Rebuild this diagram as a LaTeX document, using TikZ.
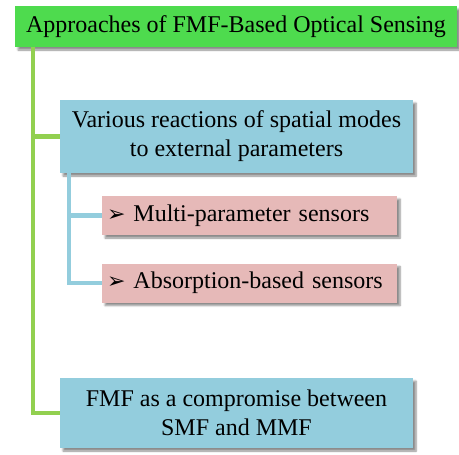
\documentclass[tikz,border=0pt]{standalone}
\usepackage{fontspec}
\setmainfont{Liberation Serif}
\newfontfamily\symfont{DejaVu Sans}
\usetikzlibrary{shadows.blur}
\definecolor{titlegreen}{RGB}{78,219,78}
\definecolor{trunkgreen}{RGB}{146,208,80}
\definecolor{boxblue}{RGB}{147,205,221}
\definecolor{boxpink}{RGB}{230,185,184}
\newcommand{\bullarrow}{{\symfont\fontsize{22}{26}\selectfont ➢}\ }
\begin{document}
\begin{tikzpicture}[x=1pt, y=-1pt,
  every node/.style={font=\fontsize{24}{29}\selectfont, align=center, inner sep=0pt},
  shadowed/.style={blur shadow={shadow xshift=3pt, shadow yshift=-3pt, shadow blur steps=6, shadow opacity=45}},
  titlebox/.style={fill=titlegreen, shadowed, minimum width=442pt, minimum height=41pt},
  bluebox/.style={fill=boxblue, shadowed, minimum width=353pt},
  pinkbox/.style={fill=boxpink, shadowed, text width=285pt, align=left, inner xsep=5pt, minimum height=39pt},
  greenline/.style={draw=trunkgreen, line width=4.5pt},
  blueline/.style={draw=boxblue, line width=4.5pt}]
  \useasboundingbox (0,0) rectangle (459,455);

  % Boxes
  \node[titlebox] (title) at (236,26.5) {Approaches of FMF-Based Optical Sensing};
  \node[bluebox, minimum height=73pt] (various) at (236.5,136.5) {Various reactions of spatial modes\\to external parameters};
  \node[pinkbox] (multi) at (249.5,215.5) {\bullarrow Multi-parameter sensors};
  \node[pinkbox] (absorb) at (249.5,283) {\bullarrow Absorption-based sensors};
  \node[bluebox, minimum height=70pt] (fmf) at (236.5,413) {FMF as a compromise between\\SMF and MMF};

  % Green trunk
  \coordinate (gx) at (33,0);
  \draw[greenline] (title.south -| gx) |- (fmf.west);
  \draw[greenline] (gx |- various.west) -- (various.west);

  % Blue branches
  \coordinate (bx) at (69,0);
  \draw[blueline] (various.south -| bx) |- (absorb.west);
  \draw[blueline] (bx |- multi.west) -- (multi.west);
\end{tikzpicture}
\end{document}
